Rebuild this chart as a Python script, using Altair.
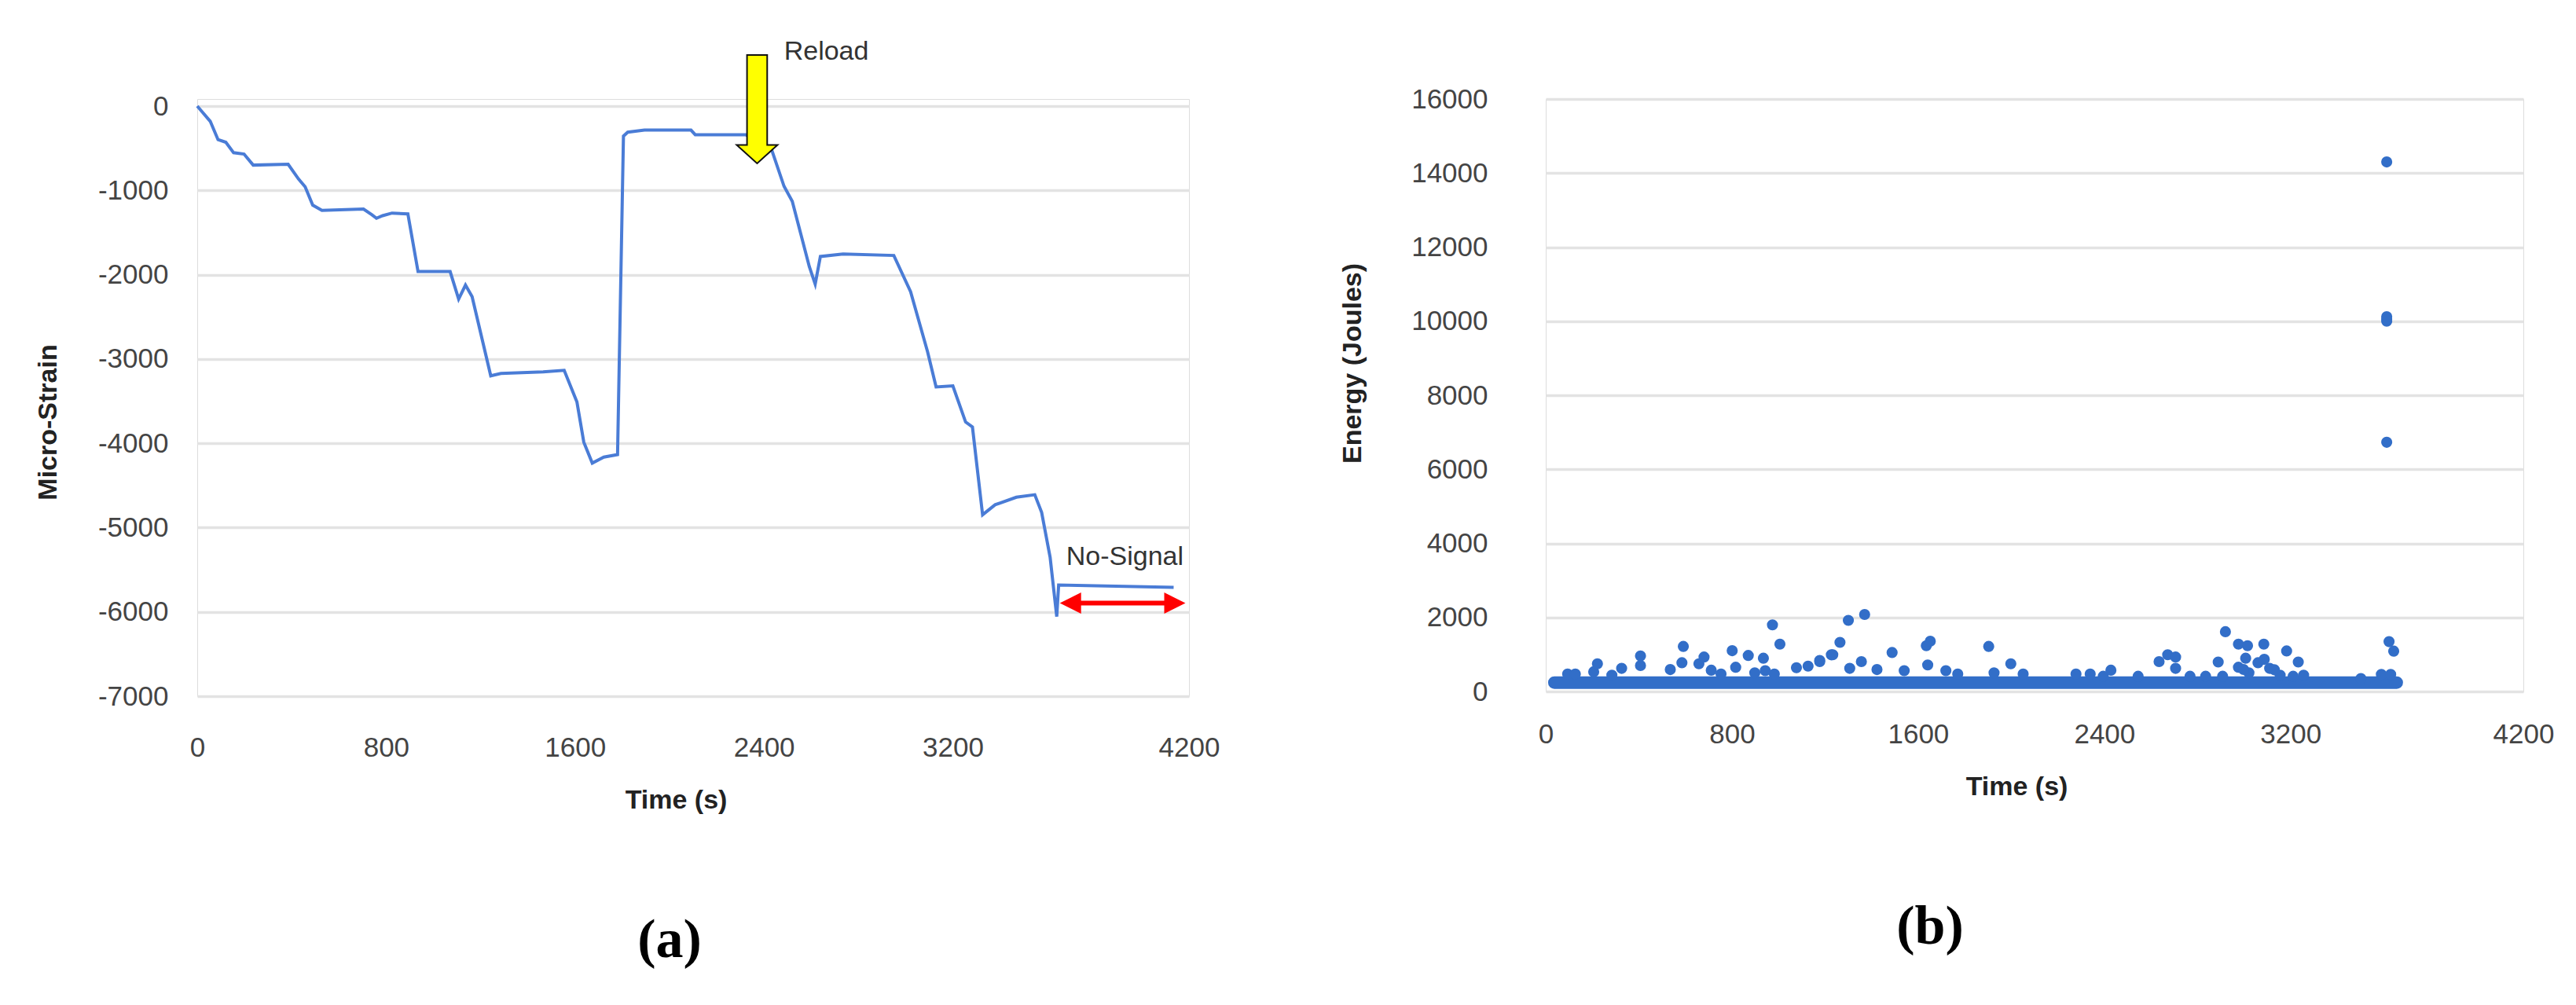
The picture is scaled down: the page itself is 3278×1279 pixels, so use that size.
import altair as alt
import pandas as pd

# ---------------- data ----------------
strain_time = [0, 17, 55, 88, 121, 154, 198, 237, 385, 429, 457, 489, 528, 704, 740, 759, 785, 825,
               892, 935, 1071, 1107, 1136, 1164, 1243, 1286, 1465, 1554, 1608, 1637, 1673, 1722, 1780,
               1805, 1823, 1894, 2091, 2109, 2323, 2431, 2485, 2520, 2592, 2617, 2639, 2735, 2950,
               3021, 3057, 3093, 3129, 3200, 3254, 3283, 3326, 3379, 3469, 3547, 3576, 3612, 3640,
               3648, 4135]
strain_value = [0, -56, -180, -398, -429, -553, -569, -700, -690, -865, -958, -1175, -1238, -1222,
                -1290, -1331, -1300, -1269, -1279, -1963, -1963, -2290, -2123, -2260, -3200, -3172,
                -3153, -3134, -3510, -3986, -4235, -4164, -4134, -356, -309, -285, -285, -339, -339,
                -505, -951, -1130, -1903, -2112, -1784, -1755, -1772, -2201, -2558, -2915, -3331,
                -3319, -3748, -3807, -4848, -4729, -4640, -4610, -4819, -5354, -6056, -5681, -5709]

energy_time = [94, 127, 206, 284, 326, 407, 407, 535, 585, 658, 711, 753, 816, 898, 943, 982, 1077,
               1127, 1177, 1227, 1306, 1356, 1423, 1540, 1641, 1719, 1770, 1926, 2051, 2278, 2339,
               2395, 2428, 2545, 2635, 2706, 2768, 2835, 2908, 2976, 3021, 3060, 3110, 3155, 3211,
               3256, 3130, 3502, 3590, 3630,
               222, 591, 680, 801, 870, 935, 974, 1006, 1177, 1233, 1264, 1300, 1370, 1488,
               1635, 1652, 1903, 1998, 2672, 2706, 2889, 2920, 2976, 3015, 3007, 3085, 3087,
               3183, 3233, 2998, 3623, 3643, 3613, 3613, 3613, 3613, 3613]
energy_value = [471, 471, 532, 440, 624, 700, 960, 593, 777, 747, 575, 471, 654, 502, 563, 471, 642,
                684, 807, 990, 624, 807, 593, 563, 716, 563, 471, 502, 471, 471, 471,
                410, 575, 410, 807, 624, 410, 410, 410, 654, 502, 777, 624, 440, 410,
                440, 587, 350, 460, 460,
                747, 1217, 930, 1101, 973, 899, 1798, 1279, 838, 991, 1327, 1921, 2079, 1052,
                1235, 1358, 1217, 747, 991, 930, 796, 1615, 1279, 1235, 899, 1279, 868,
                1095, 796, 594, 1345, 1090, 14300, 10000, 10060, 10120, 6730]

band_time = [37, 3656]
band_value = [240, 240]

x_ticks = [0, 800, 1600, 2400, 3200, 4200]
strain_ticks = [0, -1000, -2000, -3000, -4000, -5000, -6000, -7000]
energy_ticks = [0, 2000, 4000, 6000, 8000, 10000, 12000, 14000, 16000]

reload_t, reload_v, reload_text = [2485], [644], ["Reload"]
arrow_t, arrow_v = [2371], [-37]
nosig_t, nosig_v, nosig_text = [3680], [-5354], ["No-Signal"]
red_t, red_v = [3698, 4140], [-5896, -5896]

# ---------------- style ----------------
BLUE_LINE = "#4a7cd6"
BLUE_DOT = "#326ec8"
GRID = "#e3e3e3"
FONT = "Liberation Sans"
LABEL_COLOR = "#444444"

ARROW_DOWN = "M-0.186,-1 L0.186,-1 L0.186,0.66 L0.376,0.66 L0,1 L-0.376,0.66 L-0.186,0.66 Z"
HEAD_RIGHT = "M1,0 L-1,-1 L-1,1 Z"
HEAD_LEFT = "M-1,0 L1,-1 L1,1 Z"

LW, LH = 1262, 760
RW, RH = 1244, 754

def x_axis(title_x, title_y, pad):
    return alt.Axis(values=x_ticks, grid=False, domain=False, ticks=False, labelFlush=False,
                    labelPadding=pad, labelBaseline="middle", labelFont=FONT, labelFontSize=35,
                    labelColor=LABEL_COLOR, labelExpr="'' + datum.value",
                    title="Time (s)", titleFont=FONT, titleFontSize=34, titleFontWeight="bold",
                    titleColor="#222222", titleX=title_x, titleY=title_y, titleBaseline="middle",
                    titleAlign="center")

def y_axis(values, title, pad, title_x, title_y):
    return alt.Axis(values=values, grid=True, gridColor=GRID, gridWidth=3.5, domain=False,
                    ticks=False, labelPadding=pad, labelFont=FONT, labelFontSize=35,
                    labelColor=LABEL_COLOR, labelExpr="'' + datum.value",
                    title=title, titleFont=FONT, titleFontSize=34, titleFontWeight="bold",
                    titleColor="#222222", titleAngle=270, titleX=title_x, titleY=title_y,
                    titleBaseline="middle", titleAlign="center")

# ---------------- left panel ----------------
lx = alt.X("t:Q", scale=alt.Scale(domain=[0, 4200], nice=False, zero=False),
           axis=x_axis(609, 132, 65))
ly = alt.Y("v:Q", scale=alt.Scale(domain=[-7000, 84], nice=False),
           axis=y_axis(strain_ticks, "Micro-Strain", 37, -190, 411))

strain_df = pd.DataFrame({"t": strain_time, "v": strain_value})
line = alt.Chart(strain_df).mark_line(color=BLUE_LINE, strokeWidth=4, clip=False).encode(x=lx, y=ly)

arrow = alt.Chart(pd.DataFrame({"t": arrow_t, "v": arrow_v})).mark_point(
    shape=ARROW_DOWN, size=19044, filled=True, fill="#ffff00", stroke="#111111",
    strokeWidth=2, opacity=1, clip=False).encode(x=lx, y=ly)

reload_lbl = alt.Chart(pd.DataFrame({"t": reload_t, "v": reload_v, "txt": reload_text})).mark_text(
    align="left", baseline="middle", font=FONT, fontSize=34, color="#333333", clip=False
).encode(x=lx, y=ly, text="txt:N")

nosig_lbl = alt.Chart(pd.DataFrame({"t": nosig_t, "v": nosig_v, "txt": nosig_text})).mark_text(
    align="left", baseline="middle", font=FONT, fontSize=34, color="#333333", clip=False
).encode(x=lx, y=ly, text="txt:N")

red_df = pd.DataFrame({"t": red_t, "v": red_v})
red_line = alt.Chart(red_df).mark_line(color="#ff0000", strokeWidth=6, clip=False).encode(x=lx, y=ly)
head_l = alt.Chart(pd.DataFrame({"t": red_t[:1], "v": red_v[:1]})).mark_point(
    shape=HEAD_LEFT, size=729, filled=True, color="#ff0000", opacity=1, clip=False).encode(x=lx, y=ly)
head_r = alt.Chart(pd.DataFrame({"t": red_t[1:], "v": red_v[1:]})).mark_point(
    shape=HEAD_RIGHT, size=729, filled=True, color="#ff0000", opacity=1, clip=False).encode(x=lx, y=ly)

left = alt.layer(line, arrow, reload_lbl, nosig_lbl, red_line, head_l, head_r).properties(
    width=LW, height=LH,
    title=alt.TitleParams("(a)", orient="bottom", font="Liberation Serif", fontSize=70,
                          fontWeight="bold", color="#000000", anchor="middle", dx=-30, offset=128))

# ---------------- right panel ----------------
rx = alt.X("t:Q", scale=alt.Scale(domain=[0, 4200], nice=False, zero=False),
           axis=x_axis(599, 121, 54))
ry = alt.Y("e:Q", scale=alt.Scale(domain=[0, 16000], nice=False),
           axis=y_axis(energy_ticks, "Energy (Joules)", 74, -246, 336))

band = alt.Chart(pd.DataFrame({"t": band_time, "e": band_value})).mark_line(
    color=BLUE_DOT, strokeWidth=16, strokeCap="round").encode(x=rx, y=ry)
dots = alt.Chart(pd.DataFrame({"t": energy_time, "e": energy_value})).mark_circle(
    color=BLUE_DOT, size=200, opacity=1).encode(x=rx, y=ry)

right = alt.layer(band, dots).properties(
    width=RW, height=RH,
    title=alt.TitleParams("(b)", orient="bottom", font="Liberation Serif", fontSize=70,
                          fontWeight="bold", color="#000000", anchor="middle", dx=-133, offset=128))

chart = alt.hconcat(left, right, spacing=454, bounds="flush").properties(
    padding={"left": 35, "top": 40, "right": 0, "bottom": 0}
).configure_view(stroke=None).configure(background="white")

chart.save("out.html", embed_options={"renderer": "svg", "actions": False})
